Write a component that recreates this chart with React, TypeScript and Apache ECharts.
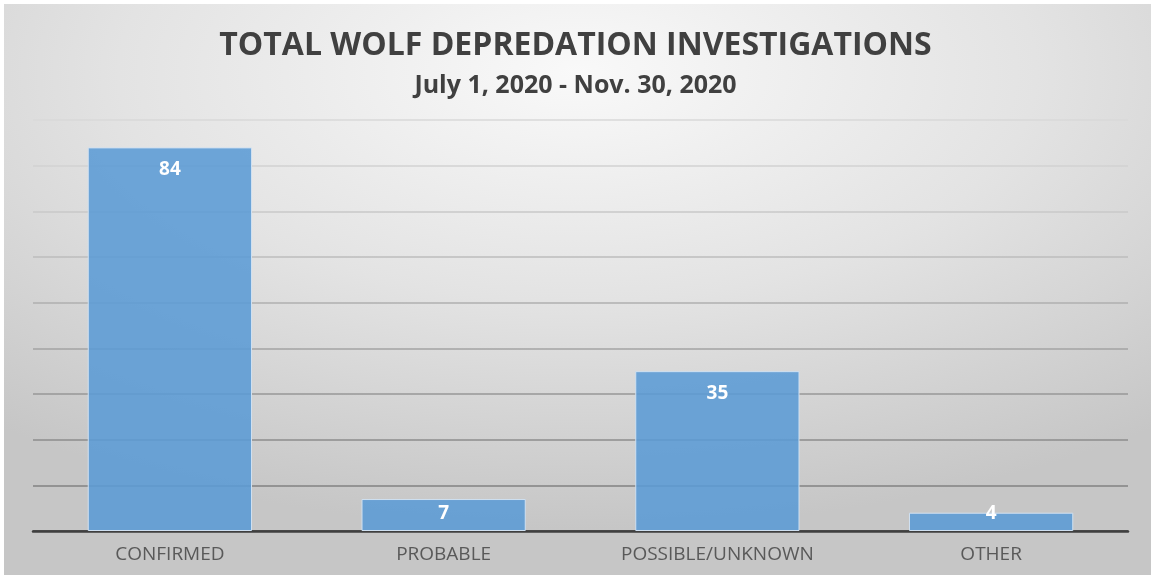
import React, { useEffect, useRef } from "react";
import * as echarts from "echarts";

const categories = ["CONFIRMED", "PROBABLE", "POSSIBLE/UNKNOWN", "OTHER"];
const values = [84, 7, 35, 4];
const titleText = "TOTAL WOLF DEPREDATION INVESTIGATIONS";
const subtitleText = "July 1, 2020 - Nov. 30, 2020";

export default function App() {
  const ref = useRef<HTMLDivElement>(null);
  useEffect(() => {
    const chart = echarts.init(ref.current!, null, { renderer: "svg" });
    const seriesData = values.map((v) =>
      v < 9
        ? { value: v, label: { position: "insideBottom", distance: 10 } }
        : { value: v }
    );
    chart.setOption({
      animation: false,
      graphic: [
        {
          type: "rect",
          z: -10,
          silent: true,
          shape: { x: 4, y: 4, width: 1147, height: 571 },
          style: {
            fill: new echarts.graphic.RadialGradient(0.5, 0.12, 0.8, [
              { offset: 0, color: "#f9f9f9" },
              { offset: 0.5, color: "#e3e3e3" },
              { offset: 1, color: "#c6c6c6" },
            ]),
          },
        },
        {
          type: "text",
          left: "center",
          top: 26,
          style: {
            text: titleText,
            font: "bold 32px 'Open Sans'",
            fill: "#404040",
          },
        },
        {
          type: "text",
          left: "center",
          top: 70,
          style: {
            text: subtitleText,
            font: "bold 25px 'Open Sans'",
            fill: "#404040",
          },
        },
      ],
      grid: { left: 33, right: 23, top: 120, bottom: 44, containLabel: false },
      xAxis: {
        type: "category",
        data: categories,
        axisLine: { show: true, lineStyle: { color: "#3f3f3f", width: 2.5 } },
        axisTick: { show: false },
        axisLabel: {
          color: "#595959",
          fontFamily: "Open Sans",
          fontSize: 19,
          margin: 12,
        },
      },
      yAxis: {
        type: "value",
        min: 0,
        max: 90,
        interval: 10,
        axisLabel: { show: false },
        axisLine: { show: false },
        axisTick: { show: false },
        splitLine: {
          show: true,
          lineStyle: {
            width: 1.5,
            color: [
              "#3f3f3f",
              "#828282",
              "#8c8c8c",
              "#979797",
              "#a3a3a3",
              "#afafaf",
              "#bcbcbc",
              "#c8c8c8",
              "#d2d2d2",
              "#d8d8d8",
            ],
          },
        },
      },
      series: [
        {
          type: "bar",
          data: seriesData,
          barCategoryGap: "40%",
          z: 1,
          itemStyle: {
            color: "rgba(91,155,213,0.88)",
            borderColor: "#cfe0f1",
            borderWidth: 1,
          },
          label: {
            show: true,
            position: "insideTop",
            distance: 11,
            color: "#ffffff",
            fontWeight: "bold",
            fontFamily: "Open Sans",
            fontSize: 19,
          },
        },
      ],
    });
    return () => chart.dispose();
  }, []);
  return (
    <div
      ref={ref}
      style={{ position: "fixed", left: 0, top: 0, width: 1151, height: 575 }}
    />
  );
}
